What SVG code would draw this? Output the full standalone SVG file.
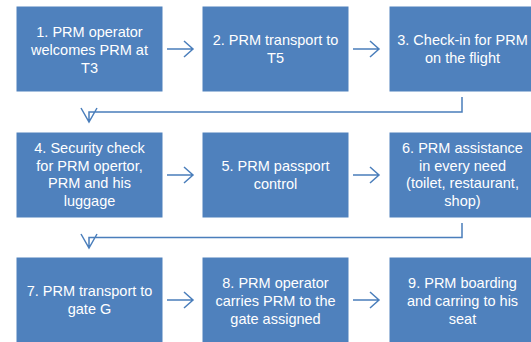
<svg xmlns="http://www.w3.org/2000/svg" width="531" height="342" viewBox="0 0 531 342">
<style>
.box{fill:#4F81BD;stroke:#FFFFFF;stroke-width:1}
.t{font-family:"Liberation Sans",Arial,sans-serif;font-size:14.5px;fill:#FFFFFF;text-anchor:middle}
.c{fill:none;stroke:#4A7EBB;stroke-width:1.5}
</style>
<rect width="531" height="342" fill="#FFFFFF"/>
<g id="n1"><rect class="box" x="16" y="6" width="147" height="86"/>
<text class="t" x="89.5" y="36.5">1. PRM operator</text><text class="t" x="89.5" y="54.5">welcomes PRM at</text><text class="t" x="89.5" y="72.5">T3</text></g>
<g id="n2"><rect class="box" x="202" y="6" width="147" height="86"/>
<text class="t" x="275.5" y="45">2. PRM transport to</text><text class="t" x="275.5" y="63">T5</text></g>
<g id="n3"><rect class="box" x="389" y="6" width="147" height="86"/>
<text class="t" x="462.5" y="45">3. Check-in for PRM</text><text class="t" x="462.5" y="63">on the flight</text></g>
<g id="n4"><rect class="box" x="16" y="132" width="147" height="86"/>
<text class="t" x="89.5" y="153">4. Security check</text><text class="t" x="89.5" y="170.5">for PRM opertor,</text><text class="t" x="89.5" y="188">PRM and his</text><text class="t" x="89.5" y="205.5">luggage</text></g>
<g id="n5"><rect class="box" x="202" y="132" width="147" height="86"/>
<text class="t" x="275.5" y="171">5. PRM passport</text><text class="t" x="275.5" y="189">control</text></g>
<g id="n6"><rect class="box" x="389" y="132" width="147" height="86"/>
<text class="t" x="462.5" y="153">6. PRM assistance</text><text class="t" x="462.5" y="170.5">in every need</text><text class="t" x="462.5" y="188">(toilet, restaurant,</text><text class="t" x="462.5" y="205.5">shop)</text></g>
<g id="n7"><rect class="box" x="16" y="257" width="147" height="86"/>
<text class="t" x="89.5" y="296">7. PRM transport to</text><text class="t" x="89.5" y="314">gate G</text></g>
<g id="n8"><rect class="box" x="202" y="257" width="147" height="86"/>
<text class="t" x="275.5" y="287.5">8. PRM operator</text><text class="t" x="275.5" y="305.5">carries PRM to the</text><text class="t" x="275.5" y="323.5">gate assigned</text></g>
<g id="n9"><rect class="box" x="389" y="257" width="147" height="86"/>
<text class="t" x="462.5" y="287.5">9. PRM boarding</text><text class="t" x="462.5" y="305.5">and carring to his</text><text class="t" x="462.5" y="323.5">seat</text></g>
<g id="connectors">
<path class="c" d="M167 49H193M184 41L193 49L184 57"/>
<path class="c" d="M353 49H379M370 41L379 49L370 57"/>
<path class="c" d="M167 175H193M184 167L193 175L184 183"/>
<path class="c" d="M353 175H379M370 167L379 175L370 183"/>
<path class="c" d="M167 300H193M184 292L193 300L184 308"/>
<path class="c" d="M353 300H379M370 292L379 300L370 308"/>
<path class="c" d="M462 97V112H89V122M81 108L89 122L97 108"/>
<path class="c" d="M462 223V237.5H89V248M81 234L89 248L97 234"/>
</g>
</svg>
